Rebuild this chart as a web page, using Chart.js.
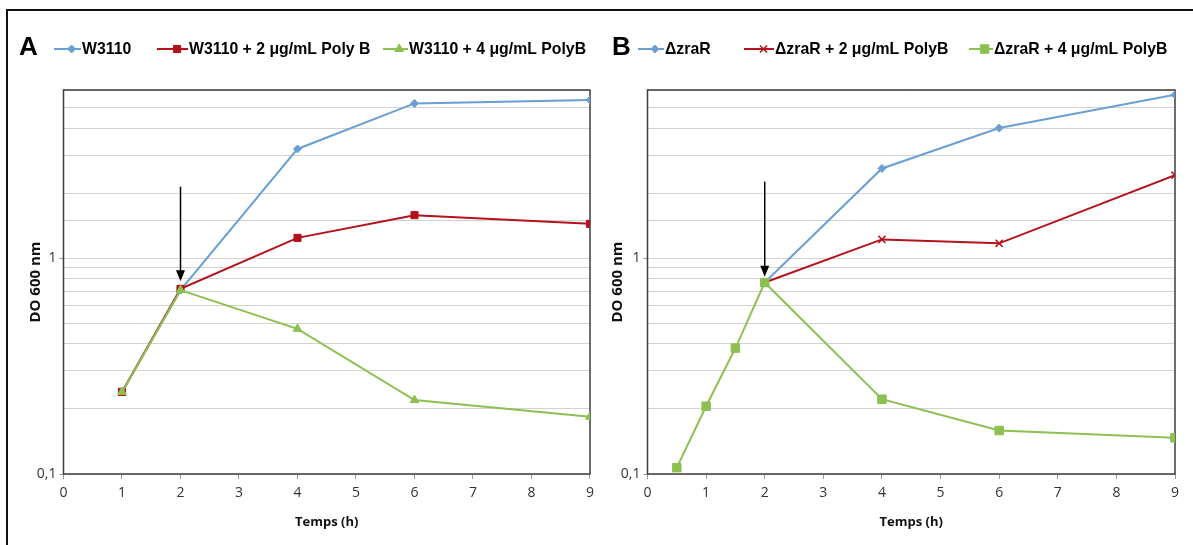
<!DOCTYPE html>
<html>
<head>
<meta charset="utf-8">
<script src="https://cdn.jsdelivr.net/npm/chart.js@4.4.1/dist/chart.umd.min.js"></script>
<style>
  body { margin: 0; background: #fff; width: 1193px; height: 545px; overflow: hidden; position: relative; }
  #frame { position: absolute; left: 6px; top: 9px; width: 1186px; height: 545px; border-left: 2px solid #111; border-top: 2px solid #111; }
  .box { position: absolute; top: 0; height: 545px; }
</style>
</head>
<body>
<div id="frame"></div>
<div class="box" style="left:0;width:600px"><canvas id="chartA" width="600" height="545"></canvas></div>
<div class="box" style="left:600px;width:593px"><canvas id="chartB" width="593" height="545"></canvas></div>
<script>
// panel A - W3110
const hoursA = [1, 2, 4, 6, 9];
const w3110 = [0.24, 0.71, 3.2, 5.2, 5.4];
const w3110Poly2 = [0.24, 0.72, 1.24, 1.58, 1.44];
const w3110Poly4 = [0.24, 0.71, 0.47, 0.22, 0.184];

// panel B - zraR mutant
const hoursB = [0.5, 1, 1.5, 2, 4, 6, 9];
const zraR = [null, null, null, 0.77, 2.6, 4.0, 5.7];
const zraRPoly2 = [null, null, null, 0.77, 1.22, 1.17, 2.42];
const zraRPoly4 = [0.107, 0.206, 0.383, 0.77, 0.222, 0.159, 0.147];

const labelsA = ['W3110', 'W3110 + 2 μg/mL Poly B', 'W3110 + 4 μg/mL PolyB'];
const labelsB = ['ΔzraR', 'ΔzraR + 2 μg/mL PolyB', 'ΔzraR + 4 μg/mL PolyB'];

// arrow marking the antibiotic addition: [x, from, to]
const arrowA = [2, 2.14, 0.78];
const arrowB = [2, 2.26, 0.82];

const xTicks = [0, 1, 2, 3, 4, 5, 6, 7, 8, 9];
const yLabels = { '0.1': '0,1', '1': '1' };

const BLUE = '#6a9fd3', RED = '#b3121b', GREEN = '#8cc152';

Chart.defaults.font.family = "'Open Sans', sans-serif";

function pts(xs, ys) {
  return xs.map((x, i) => ({ x: x, y: ys[i] }));
}

function series(label, xs, ys, color, style, radius, order) {
  return {
    label: label,
    data: pts(xs, ys),
    borderColor: color,
    backgroundColor: color,
    pointBackgroundColor: style === 'crossRot' ? 'transparent' : color,
    pointBorderColor: color,
    pointBorderWidth: style === 'crossRot' ? 1.5 : 1,
    pointStyle: style,
    pointRadius: radius,
    borderWidth: 2,
    tension: 0,
    spanGaps: false,
    order: order
  };
}

const frame = {
  id: 'frame',
  beforeDatasetsDraw(chart) {
    const a = chart.chartArea, ctx = chart.ctx;
    ctx.save();
    ctx.strokeStyle = '#3c3c3c';
    ctx.lineWidth = 1.5;
    ctx.strokeRect(a.left, a.top, a.right - a.left, a.bottom - a.top);
    ctx.restore();
  }
};

const arrow = {
  id: 'arrow',
  afterDatasetsDraw(chart, args, opts) {
    const ctx = chart.ctx;
    const x = chart.scales.x.getPixelForValue(opts.at[0]);
    const y0 = chart.scales.y.getPixelForValue(opts.at[1]);
    const y1 = chart.scales.y.getPixelForValue(opts.at[2]);
    ctx.save();
    ctx.strokeStyle = '#000';
    ctx.fillStyle = '#000';
    ctx.lineWidth = 1.5;
    ctx.beginPath(); ctx.moveTo(x, y0); ctx.lineTo(x, y1 - 9); ctx.stroke();
    ctx.beginPath(); ctx.moveTo(x - 4.5, y1 - 11); ctx.lineTo(x + 4.5, y1 - 11); ctx.lineTo(x, y1); ctx.closePath(); ctx.fill();
    ctx.restore();
  }
};

const legend = {
  id: 'xlLegend',
  afterDraw(chart, args, opts) {
    const ctx = chart.ctx;
    ctx.save();
    ctx.textBaseline = 'middle';
    ctx.fillStyle = '#000';
    ctx.font = 'bold 26px "Liberation Sans", Arial, sans-serif';
    ctx.fillText(opts.panel, opts.panelX, opts.y - 1);
    chart.data.datasets.forEach((ds, i) => {
      const it = opts.items[i];
      ctx.strokeStyle = ds.borderColor;
      ctx.lineWidth = 2;
      ctx.beginPath(); ctx.moveTo(it[0], opts.y); ctx.lineTo(it[1], opts.y); ctx.stroke();
      ctx.fillStyle = ds.pointBackgroundColor;
      ctx.strokeStyle = ds.pointBorderColor;
      ctx.lineWidth = ds.pointBorderWidth;
      Chart.helpers.drawPoint(ctx, { pointStyle: ds.pointStyle, radius: ds.pointRadius, borderWidth: ds.pointBorderWidth, rotation: 0 },
        it[0] + (it[1] - it[0]) * 0.65, opts.y);
      ctx.save();
      ctx.translate(it[2], opts.y);
      ctx.scale(opts.squeeze, 1);
      ctx.fillStyle = '#000';
      ctx.font = 'bold 17px "Liberation Sans", Arial, sans-serif';
      ctx.fillText(ds.label, 0, 0);
      ctx.restore();
    });
    ctx.restore();
  }
};

function makeOptions(yWidth, rightPad, yTitlePad, legendOpts, arrowAt) {
  return {
    responsive: false,
    animation: false,
    layout: { padding: { top: 90, left: 0, right: rightPad, bottom: 0 } },
    plugins: {
      legend: { display: false },
      tooltip: { enabled: false },
      xlLegend: legendOpts,
      arrow: { at: arrowAt }
    },
    scales: {
      x: {
        type: 'linear',
        min: 0, max: 9,
        afterFit: s => { s.height = 71; },
        afterBuildTicks: s => { s.ticks = xTicks.map(v => ({ value: v })); },
        grid: { drawOnChartArea: false, drawTicks: true, tickLength: 5, color: '#9a9a9a' },
        border: { display: false },
        ticks: { padding: 6, color: '#333', font: { size: 14 } },
        title: { display: true, text: 'Temps (h)', color: '#111', font: { size: 13, weight: 'bold', lineHeight: 1.2 }, padding: { top: 0, bottom: 15 } }
      },
      y: {
        type: 'logarithmic',
        min: 0.1, max: 6,
        afterFit: s => { s.width = yWidth; },
        grid: {
          color: '#d3d3d3', lineWidth: 1, tickLength: 4,
          tickColor: ctx => (yLabels[String(ctx.tick.value)] ? '#9a9a9a' : 'transparent')
        },
        border: { display: false },
        ticks: {
          autoSkip: false, padding: 3, color: '#333', font: { size: 14 },
          callback: v => yLabels[String(Math.round(v * 1000) / 1000)] || ''
        },
        title: { display: true, text: 'DO 600 nm', color: '#111', font: { size: 15, weight: 'bold', lineHeight: 1.2 }, padding: { top: yTitlePad, bottom: 0 } }
      }
    }
  };
}

new Chart(document.getElementById('chartA'), {
  type: 'line',
  data: {
    datasets: [
      series(labelsA[0], hoursA, w3110, BLUE, 'rectRot', 4, 2),
      series(labelsA[1], hoursA, w3110Poly2, RED, 'rect', 5, 1),
      series(labelsA[2], hoursA, w3110Poly4, GREEN, 'triangle', 5, 0)
    ]
  },
  options: makeOptions(63.5, 7.5, 27, {
    panel: 'A', panelX: 19, y: 49, squeeze: 0.93,
    items: [[54, 81, 82], [157, 188, 189], [383, 408, 409]]
  }, arrowA),
  plugins: [frame, arrow, legend]
});

new Chart(document.getElementById('chartB'), {
  type: 'line',
  data: {
    datasets: [
      series(labelsB[0], hoursB, zraR, BLUE, 'rectRot', 4, 2),
      series(labelsB[1], hoursB, zraRPoly2, RED, 'crossRot', 5, 1),
      series(labelsB[2], hoursB, zraRPoly4, GREEN, 'rect', 6, 0)
    ]
  },
  options: makeOptions(47.5, 18, 9, {
    panel: 'B', panelX: 12, y: 49, squeeze: 0.93,
    items: [[38, 64, 65], [144, 174, 175], [369, 393, 394]]
  }, arrowB),
  plugins: [frame, arrow, legend]
});
</script>
</body>
</html>
